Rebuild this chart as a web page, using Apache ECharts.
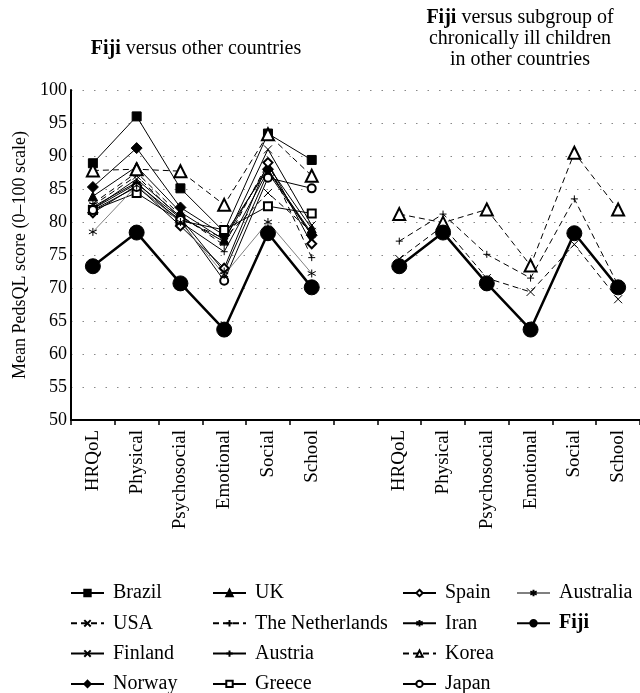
<!DOCTYPE html>
<html><head><meta charset="utf-8">
<script src="https://cdn.jsdelivr.net/npm/echarts@6/dist/echarts.min.js"></script>
<style>html,body{margin:0;padding:0;background:#fff}#c{width:640px;height:693px}</style>
</head><body><div id="c"></div>
<script>
const categories = ['HRQoL','Physical','Psychosocial','Emotional','Social','School','',
                    'HRQoL','Physical','Psychosocial','Emotional','Social','School'];
const yMin = 50, yMax = 100, yStep = 5;

// Left panel: Fiji versus other countries
const brazil      = [88.9, 96.0, 85.1, 78.5, 93.4, 89.4];
const usa         = [82.5, 87.0, 80.5, 77.5, 84.4, 78.5];
const finland     = [82.0, 86.5, 80.8, 77.0, 91.0, 79.5];
const norway      = [85.3, 91.2, 82.2, 78.0, 88.0, 78.0];
const uk          = [83.9, 88.4, 81.5, 77.3, 88.5, 79.0];
const netherlands = [82.8, 87.5, 81.0, 76.5, 89.0, 74.6];
const austria     = [82.3, 86.0, 80.0, 75.5, 87.8, 78.3];
const greece      = [81.8, 84.4, 80.2, 78.8, 82.4, 81.3];
const spain       = [81.4, 85.5, 79.4, 73.0, 89.0, 76.7];
const iran        = [82.0, 85.8, 80.6, 72.5, 87.5, 78.0];
const korea       = [87.8, 88.0, 87.7, 82.6, 93.3, 87.0];
const japan       = [81.8, 85.3, 80.3, 71.1, 86.7, 85.1];
const australia   = [78.5, 85.5, 80.0, 72.0, 80.0, 72.2];
const fiji        = [73.3, 78.4, 70.7, 63.7, 78.3, 70.1];

// Right panel: Fiji versus chronically ill subgroup
const usaSub         = [74.4, 79.4, 71.5, 69.4, 76.6, 68.3];
const netherlandsSub = [77.1, 81.2, 75.1, 71.5, 83.5, 70.4];
const koreaSub       = [81.2, 79.9, 81.9, 73.4, 90.5, 81.9];
const fijiSub        = [73.3, 78.4, 70.7, 63.7, 78.3, 70.1];

const FONT = 'Liberation Serif';
const X_SYM = 'path://M0,0L10,10M10,0L0,10';
const PLUS_SYM = 'path://M5,0L5,10M0,5L10,5';
const AST_SYM = 'path://M5,0L5,10M0.7,2.5L9.3,7.5M9.3,2.5L0.7,7.5';
const EMPTY6 = [null, null, null, null, null, null];

function mk(name, left, right, symbol, size, o) {
  o = o || {};
  return {
    name: name, type: 'line',
    data: left.concat([null], right || EMPTY6),
    connectNulls: false,
    symbol: symbol, symbolSize: size,
    showAllSymbol: true,
    z: o.z || 2,
    lineStyle: { color: o.lineColor || '#000', width: o.width || 1, type: o.dash ? [6, 4] : 'solid' },
    itemStyle: { color: '#000', borderColor: '#000', borderWidth: o.bw || 1 },
    emphasis: { disabled: true },
    animation: false
  };
}

const series = [
  mk('Brazil', brazil, null, 'rect', 9),
  mk('USA', usa, usaSub, X_SYM, 8, { dash: true }),
  mk('Finland', finland, null, X_SYM, 8),
  mk('Norway', norway, null, 'diamond', 11),
  mk('UK', uk, null, 'triangle', 9),
  mk('The Netherlands', netherlands, netherlandsSub, PLUS_SYM, 7, { dash: true }),
  mk('Austria', austria, null, PLUS_SYM, 7),
  mk('Greece', greece, null, 'emptyRect', 8),
  mk('Spain', spain, null, 'emptyDiamond', 9),
  mk('Iran', iran, null, AST_SYM, 8),
  mk('Korea', korea, koreaSub, 'emptyTriangle', 12, { dash: true }),
  mk('Japan', japan, null, 'emptyCircle', 8),
  mk('Australia', australia, null, AST_SYM, 8, { lineColor: '#808080' }),
  mk('Fiji', fiji, fijiSub, 'circle', 15, { width: 2.5, z: 5 })
];

const legendText = {
  fontFamily: FONT, fontSize: 20, color: '#000', padding: [0, 0, 0, 4],
  rich: { b: { fontFamily: FONT, fontSize: 20, fontWeight: 'bold', color: '#000' } }
};
function lg(names, left) {
  return {
    data: names, left: left, top: 583, height: 140, orient: 'vertical', padding: 0,
    itemWidth: 33, itemHeight: 8, itemGap: 10.3,
    textStyle: legendText, selectedMode: false,
    formatter: n => n === 'Fiji' ? '{b|Fiji}' : n
  };
}

const chart = echarts.init(document.getElementById('c'), null, { renderer: 'canvas' });
chart.setOption({
  animation: false,
  backgroundColor: '#fff',
  grid: { left: 71, right: 0, top: 90, bottom: 273 },
  xAxis: {
    type: 'category', data: categories, boundaryGap: true,
    axisLine: { lineStyle: { color: '#000', width: 2 } },
    axisTick: { show: true, interval: 0, length: 5, lineStyle: { color: '#000', width: 1.5 } },
    axisLabel: { interval: 0, rotate: 90, margin: 10, fontFamily: FONT, fontSize: 19, color: '#000' },
    splitLine: { show: false }
  },
  yAxis: {
    type: 'value', min: yMin, max: yMax, interval: yStep,
    axisLine: { show: true, lineStyle: { color: '#000', width: 2 } },
    axisTick: { show: false },
    axisLabel: { fontFamily: FONT, fontSize: 18, color: '#000', margin: 4 },
    splitLine: { show: true, lineStyle: { color: '#888', type: [1.5, 10], width: 1 } },
    name: 'Mean PedsQL score (0\u2013100 scale)', nameLocation: 'middle', nameGap: 36,
    nameTextStyle: { fontFamily: FONT, fontSize: 18, color: '#000' }
  },
  legend: [
    lg(['Brazil', 'USA', 'Finland', 'Norway'], 70),
    lg(['UK', 'The Netherlands', 'Austria', 'Greece'], 212),
    lg(['Spain', 'Iran', 'Korea', 'Japan'], 402),
    lg(['Australia', 'Fiji'], 516)
  ],
  graphic: [
    { type: 'text', x: 196, y: 49, style: { text: '{b|Fiji} versus other countries', font: '20px ' + FONT, fill: '#000', align: 'center', verticalAlign: 'middle', rich: { b: { fontWeight: 'bold', fontFamily: FONT, fontSize: 20 } } } },
    { type: 'text', x: 520, y: 18, style: { text: '{b|Fiji} versus subgroup of', font: '20px ' + FONT, fill: '#000', align: 'center', verticalAlign: 'middle', rich: { b: { fontWeight: 'bold', fontFamily: FONT, fontSize: 20 } } } },
    { type: 'text', x: 520, y: 39, style: { text: 'chronically ill children', font: '20px ' + FONT, fill: '#000', align: 'center', verticalAlign: 'middle' } },
    { type: 'text', x: 520, y: 60, style: { text: 'in other countries', font: '20px ' + FONT, fill: '#000', align: 'center', verticalAlign: 'middle' } }
  ],
  series: series
});
</script></body></html>
